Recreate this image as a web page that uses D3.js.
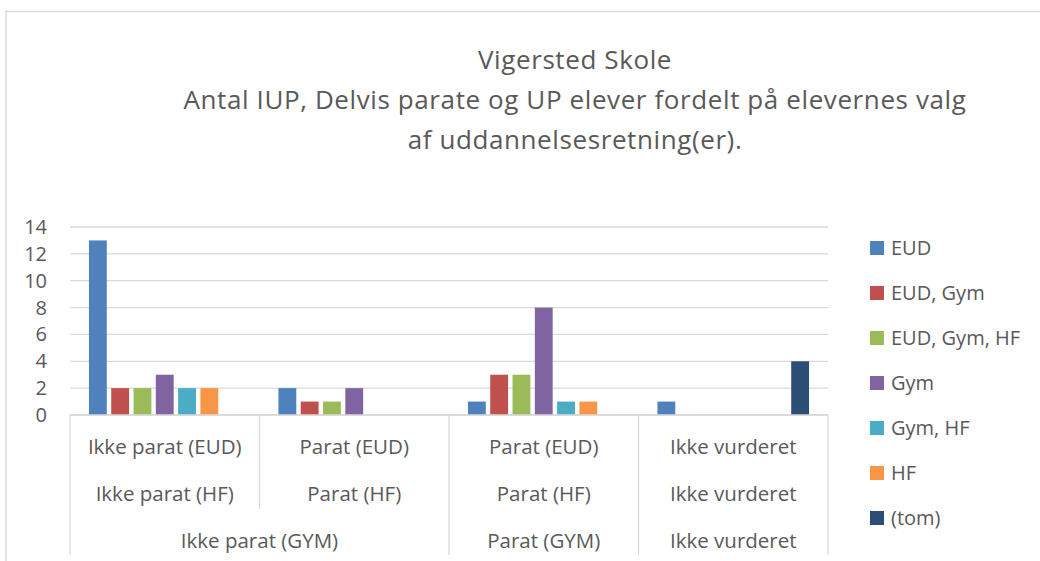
<!DOCTYPE html>
<html lang="da">
<head>
    <meta charset="UTF-8">
    <title>Vigersted Skole</title>
    <style>
        body { margin: 0; background: #fff; }
        svg text { font-family: "Open Sans", "Noto Sans", sans-serif; fill: #595959; }
    </style>
    <script src="https://d3js.org/d3.v7.min.js"></script>
</head>
<body>
<div id="chart"></div>
<script>
    // data
    const titleLines = ["Vigersted Skole",
        "Antal IUP, Delvis parate og UP elever fordelt på elevernes valg",
        "af uddannelsesretning(er)."];
    const level1 = ["Ikke parat (EUD)", "Parat (EUD)", "Parat (EUD)", "Ikke vurderet"];
    const level2 = ["Ikke parat (HF)", "Parat (HF)", "Parat (HF)", "Ikke vurderet"];
    const level3 = ["Ikke parat (GYM)", "Ikke parat (GYM)", "Parat (GYM)", "Ikke vurderet"];
    const series = ["EUD", "EUD, Gym", "EUD, Gym, HF", "Gym", "Gym, HF", "HF", "(tom)"];
    const colors = ["#4f81bd", "#c0504d", "#9bbb59", "#8064a2", "#4bacc6", "#f79646", "#2c4d75"];
    const values = [
        [13, 2, 2, 3, 2, 2, 0],
        [2, 1, 1, 2, 0, 0, 0],
        [1, 3, 3, 8, 1, 1, 0],
        [1, 0, 0, 0, 0, 0, 4]
    ];
    const yTicks = [0, 2, 4, 6, 8, 10, 12, 14];

    const W = 1040, H = 561;
    const svg = d3.select("#chart").append("svg").attr("width", W).attr("height", H);

    // chart border
    svg.append("path")
        .attr("d", "M6,561 V11.5 H1040")
        .attr("fill", "none")
        .attr("stroke", "#d9d9d9")
        .attr("stroke-width", 1.5);

    // title
    svg.append("text")
        .attr("text-anchor", "middle")
        .attr("font-size", 26)
        .attr("letter-spacing", 0.6)
        .selectAll("tspan")
        .data(titleLines)
        .join("tspan")
        .attr("x", 575)
        .attr("y", (d, i) => 69 + i * 40)
        .text(d => d);

    const x = d3.scaleBand().domain(d3.range(level1.length)).range([70, 828]);
    const bw = x.bandwidth();
    const x1 = d3.scaleBand().domain(series).range([0.1 * bw, 0.9 * bw]).paddingInner(0.2);
    const y = d3.scaleLinear().domain([0, 14]).range([415, 227]);

    // gridlines
    svg.append("g")
        .selectAll("line")
        .data(yTicks)
        .join("line")
        .attr("x1", 70).attr("x2", 828)
        .attr("y1", d => y(d)).attr("y2", d => y(d))
        .attr("stroke", "#d9d9d9")
        .attr("stroke-width", 1.3);

    // y axis labels
    svg.append("g")
        .selectAll("text")
        .data(yTicks)
        .join("text")
        .attr("x", 47)
        .attr("y", d => y(d))
        .attr("dy", "0.35em")
        .attr("text-anchor", "end")
        .attr("font-size", 20)
        .text(d => d);

    // bars
    const groups = svg.append("g")
        .selectAll("g")
        .data(values)
        .join("g")
        .attr("transform", (d, i) => `translate(${x(i)},0)`);
    groups.selectAll("rect")
        .data(d => d.map((v, j) => ({ s: series[j], v: v, c: colors[j] })))
        .join("rect")
        .attr("x", d => x1(d.s))
        .attr("width", x1.bandwidth())
        .attr("y", d => y(d.v))
        .attr("height", d => y(0) - y(d.v))
        .attr("fill", d => d.c);

    // multi-level category axis
    const rowY = [447, 494, 541];
    const rowBottom = [470, 509, 555];
    const levels = [level1, level2, level3];
    const axisG = svg.append("g");

    // how far down the separator goes between i-1 and i
    function sepDepth(i) {
        if (i === 0 || i === level1.length) return levels.length - 1;
        let depth = 0;
        for (let k = levels.length - 1; k >= 0; k--) {
            if (levels[k][i] !== levels[k][i - 1]) { depth = k; break; }
        }
        return depth;
    }
    const seps = d3.range(level1.length + 1);
    axisG.selectAll("line.sep")
        .data(seps)
        .join("line")
        .attr("class", "sep")
        .attr("x1", i => i < level1.length ? x(i) : x(i - 1) + bw)
        .attr("x2", i => i < level1.length ? x(i) : x(i - 1) + bw)
        .attr("y1", 415)
        .attr("y2", i => rowBottom[sepDepth(i)])
        .attr("stroke", "#d9d9d9")
        .attr("stroke-width", 1.3);
    axisG.append("line")
        .attr("x1", 70).attr("x2", 828)
        .attr("y1", 415).attr("y2", 415)
        .attr("stroke", "#d9d9d9")
        .attr("stroke-width", 1.3);

    // labels, grouped by the outer levels
    levels.forEach((lv, k) => {
        const spans = [];
        lv.forEach((lab, i) => {
            const key = levels.slice(k).map(l => l[i]).join("|");
            const last = spans[spans.length - 1];
            if (last && last.key === key) last.end = i;
            else spans.push({ key: key, label: lab, start: i, end: i });
        });
        axisG.selectAll("text.l" + k)
            .data(spans)
            .join("text")
            .attr("class", "l" + k)
            .attr("x", d => (x(d.start) + x(d.end) + bw) / 2)
            .attr("y", rowY[k])
            .attr("dy", "0.35em")
            .attr("text-anchor", "middle")
            .attr("font-size", 20.5)
            .text(d => d.label);
    });

    // legend
    const legend = svg.append("g")
        .selectAll("g")
        .data(series)
        .join("g")
        .attr("transform", (d, i) => `translate(870,${248 + i * 45})`);
    legend.append("rect")
        .attr("x", 0).attr("y", -7)
        .attr("width", 14).attr("height", 14)
        .attr("fill", (d, i) => colors[i]);
    legend.append("text")
        .attr("x", 21)
        .attr("dy", "0.35em")
        .attr("font-size", 20)
        .text(d => d);
</script>
</body>
</html>
